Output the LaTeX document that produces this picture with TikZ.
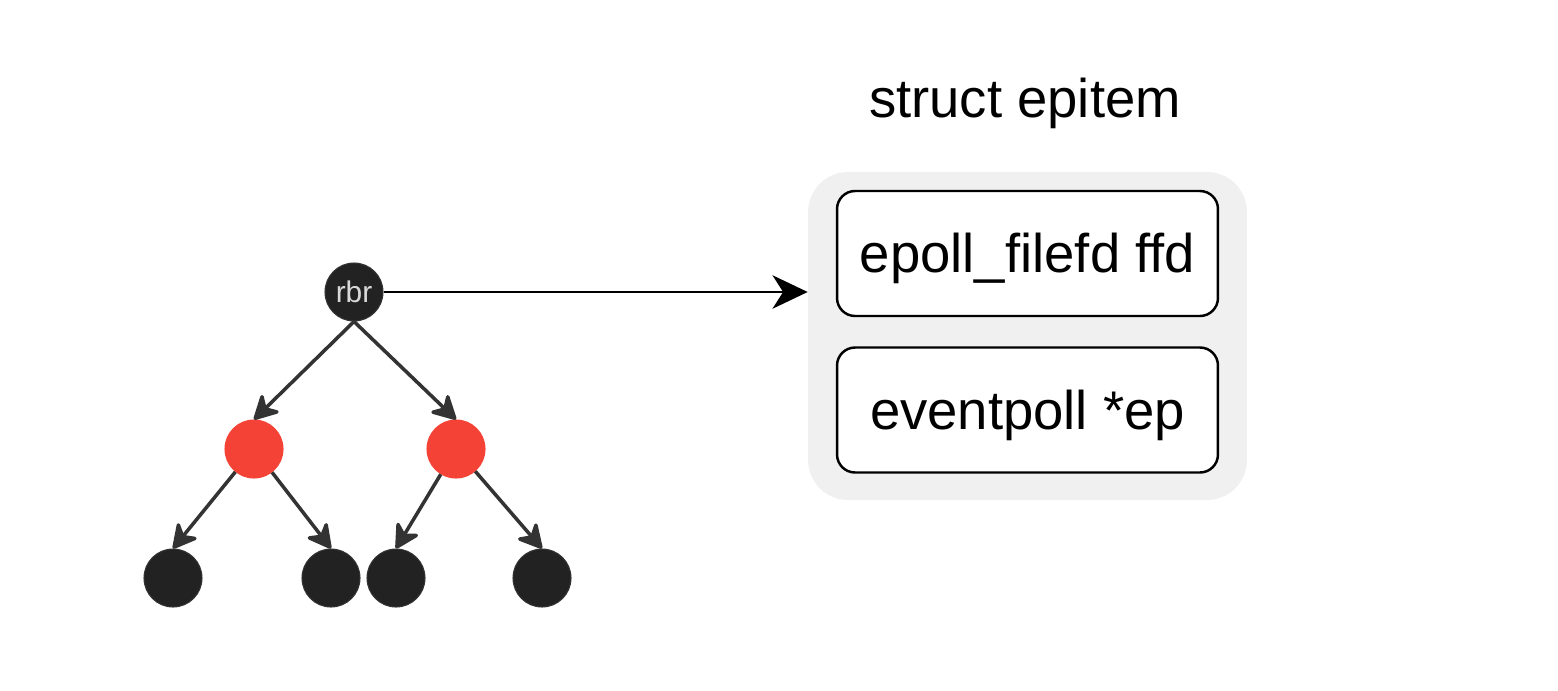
\documentclass[tikz,border=0pt]{standalone}
\usepackage{fontspec}
\setmainfont[Ligatures=NoCommon]{Liberation Sans}
\usetikzlibrary{arrows.meta}
\definecolor{knotdark}{HTML}{222222}
\definecolor{knotred}{HTML}{F44336}
\definecolor{kantegrau}{HTML}{333333}
\definecolor{huelle}{HTML}{F0F0F0}
\tikzset{
	knoten/.style={circle, inner sep=0pt, minimum size=1.16cm, fill=knotdark, draw=kantegrau, line width=0.6pt},
	rotknoten/.style={knoten, fill=knotred, draw=knotred},
	kante/.style={line width=2pt, color=kantegrau, -{Stealth[length=16pt,width=17pt,inset=5pt,round]}},
	feld/.style={rectangle, rounded corners=0.36cm, draw=black, line width=1.4pt, fill=white,
		minimum width=7.62cm, minimum height=2.5cm, text height=28pt, text depth=6pt,
		font=\fontsize{31}{37}\selectfont}
}
\begin{document}
\begin{tikzpicture}[x=0.02cm, y=-0.02cm]
	\useasboundingbox[fill=white] (0,0) rectangle (1558,690);
	% Baum
	\node[
		knoten,
		text=black!15,
		font=\fontsize{17}{19}\selectfont
	] (rbr) at (354,292) {rbr};
	\node[rotknoten] (links) at (254,449) {};
	\node[rotknoten] (rechts) at (456,449) {};
	\node[knoten] (blatta) at (173,578) {};
	\node[knoten] (blattb) at (331,578) {};
	\node[knoten] (blattc) at (396,578) {};
	\node[knoten] (blattd) at (542,578) {};
	% Kanten
	\draw[kante] (rbr.south) -- (links.north);
	\draw[kante] (rbr.south) -- (rechts.north);
	\draw[kante] (links) -- (blatta.north);
	\draw[kante] (links) -- (blattb.north);
	\draw[kante] (rechts) -- (blattc.north);
	\draw[kante] (rechts) -- (blattd.north);
	% struct epitem
	\node[
		rectangle,
		rounded corners=0.8cm,
		fill=huelle,
		minimum width=8.78cm,
		minimum height=6.56cm
	] (epitem) at (1027.5,336) {};
	\node[
		anchor=base,
		font=\fontsize{31}{37}\selectfont
	] (titel) at (1025,117) {struct epitem};
	\node[feld] (ffd) at (1027.5,253.5) {epoll\_filefd ffd};
	\node[feld] (ep) at (1027.5,410) {eventpoll *ep};
	% Verbindung rbr - epitem
	\draw[
		line width=1.5pt,
		color=black,
		-{Stealth[length=20pt,width=19pt,inset=6pt]}
	] (rbr.east) -- (rbr.east -| epitem.west);
\end{tikzpicture}
\end{document}
